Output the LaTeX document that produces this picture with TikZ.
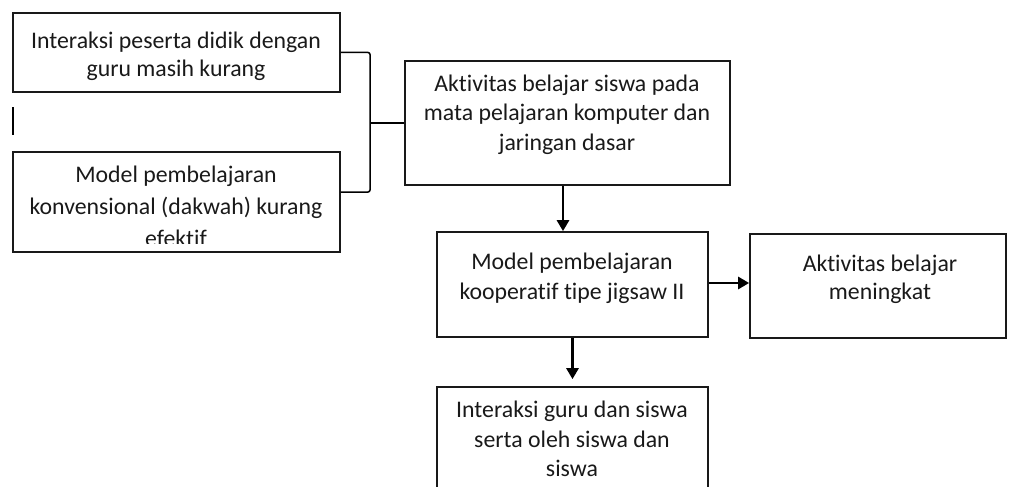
\documentclass[tikz,border=0pt]{standalone}
\usepackage{fontspec}
\setmainfont{Carlito}[Ligatures={NoCommon,NoContextual}]
\usetikzlibrary{arrows.meta,calc}
\begin{document}
\begin{tikzpicture}[x=1pt,y=-1pt,
  box/.style={draw=black!90,line width=1.7pt,rectangle,inner sep=0pt},
  txt/.style={font=\fontsize{23.8}{29}\selectfont,inner sep=0pt,anchor=base,text=black!90},
  arr/.style={line width=2.8pt,-{Triangle[length=11pt,width=12pt]}},
  brk/.style={line width=1.5pt,rounded corners=2pt}]
\useasboundingbox (0,0) rectangle (1010,487);
\clip (0,0) rectangle (1010,487);
% boxes
\node[box,minimum width=327pt,minimum height=79pt] (b1) at (176.5,52.5) {};
\node[box,minimum width=327pt,minimum height=100pt] (b2) at (176.5,202) {};
\node[box,minimum width=325pt,minimum height=124pt] (b3) at (567.5,123) {};
\node[box,minimum width=271pt,minimum height=105pt] (b4) at (572.5,284.5) {};
\node[box,minimum width=256pt,minimum height=104pt] (b5) at (878,286) {};
\node[box,minimum width=271pt,minimum height=120pt] (b6) at (572.5,447) {};
% texts
\node[txt] (t1a) at (176,49) {Interaksi peserta didik dengan};
\node[txt] (t1b) at (176,77) {guru masih kurang};
\node[txt] (t2a) at (176,182) {Model pembelajaran};
\node[txt] (t2b) at (176,214) {konvensional (dakwah) kurang};
\begin{scope}
  \clip (13,152) rectangle (340,243);
  \node[txt] (t2c) at (176,246) {efektif};
\end{scope}
\node[txt] (t3a) at (567,92) {Aktivitas belajar siswa pada};
\node[txt] (t3b) at (567,121) {mata pelajaran komputer dan};
\node[txt] (t3c) at (567,150) {jaringan dasar};
\node[txt] (t4a) at (572,269) {Model pembelajaran};
\node[txt] (t4b) at (572,299) {kooperatif tipe jigsaw II};
\node[txt] (t5a) at (880,271) {Aktivitas belajar};
\node[txt] (t5b) at (880,299) {meningkat};
\node[txt] (t6a) at (572,417) {Interaksi guru dan siswa};
\node[txt] (t6b) at (572,447) {serta oleh siswa dan};
\node[txt] (t6c) at (572,476) {siswa};
% bracket
\coordinate (bx) at (370,0);
\coordinate (b2c) at ($(b2.east)+(0,-10)$);
\draw[brk] (b1.east) -- (b1.east -| bx) -- (b2c -| bx) -- (b2c);
\draw[line width=1.5pt] (bx |- b3.west) -- (b3.west);
% stray mark
\draw[line width=1.5pt] (13,107) -- (13,135);
% arrows
\coordinate (ax) at (563,0);
\coordinate (ay) at (0,283);
\draw[arr] (b3.south -| ax) -- (b4.north -| ax);
\draw[arr] (b4.east |- ay) -- (b5.west |- ay);
\draw[arr,shorten >=7pt] (b4.south) -- (b6.north);
\end{tikzpicture}
\end{document}
